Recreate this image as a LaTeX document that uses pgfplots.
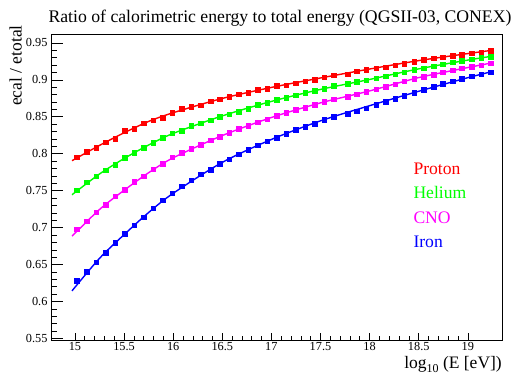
\documentclass[border=0pt]{standalone}
\usepackage{fontspec}
\setmainfont{Liberation Serif}
\usepackage{pgfplots}
\pgfplotsset{compat=1.18}
\usepackage{pgfplotstable}
\definecolor{rred}{RGB}{255,0,0}
\definecolor{rgreen}{RGB}{0,255,0}
\definecolor{rmag}{RGB}{255,0,255}
\definecolor{rblue}{RGB}{0,0,255}

\pgfplotstableread{
x y
15.017 0.7956
15.119 0.8027
15.214 0.8085
15.313 0.8160
15.407 0.8206
15.506 0.8313
15.601 0.8340
15.700 0.8417
15.794 0.8457
15.893 0.8490
15.988 0.8555
16.087 0.8614
16.184 0.8636
16.280 0.8660
16.378 0.8712
16.474 0.8740
16.568 0.8770
16.667 0.8806
16.762 0.8824
16.860 0.8870
16.955 0.8883
17.054 0.8918
17.149 0.8931
17.245 0.8958
17.342 0.8985
17.441 0.9004
17.536 0.9039
17.634 0.9066
17.777 0.9079
17.869 0.9120
17.966 0.9138
18.065 0.9160
18.162 0.9170
18.259 0.9200
18.353 0.9220
18.452 0.9250
18.551 0.9273
18.649 0.9294
18.744 0.9308
18.842 0.9327
18.938 0.9344
19.036 0.9362
19.134 0.9375
19.229 0.9398
}\protondata

\pgfplotstableread{
x y
15.017 0.7507
15.119 0.7614
15.214 0.7695
15.313 0.7776
15.407 0.7856
15.506 0.7946
15.601 0.8018
15.700 0.8085
15.794 0.8152
15.893 0.8220
15.988 0.8280
16.087 0.8313
16.184 0.8381
16.280 0.8417
16.378 0.8457
16.474 0.8502
16.568 0.8534
16.667 0.8574
16.762 0.8609
16.860 0.8663
16.955 0.8690
17.054 0.8730
17.149 0.8757
17.245 0.8793
17.342 0.8824
17.441 0.8851
17.536 0.8883
17.634 0.8918
17.777 0.8945
17.869 0.8972
17.966 0.8995
18.065 0.9021
18.162 0.9052
18.259 0.9077
18.353 0.9106
18.452 0.9138
18.551 0.9160
18.649 0.9187
18.744 0.9214
18.842 0.9240
18.938 0.9259
19.036 0.9281
19.134 0.9300
19.229 0.9317
}\heliumdata

\pgfplotstableread{
x y
15.017 0.6979
15.119 0.7086
15.214 0.7211
15.313 0.7310
15.407 0.7426
15.506 0.7512
15.601 0.7620
15.700 0.7700
15.794 0.7790
15.893 0.7870
15.988 0.7956
16.087 0.8018
16.184 0.8071
16.280 0.8125
16.378 0.8184
16.474 0.8233
16.568 0.8287
16.667 0.8340
16.762 0.8381
16.860 0.8430
16.955 0.8466
17.054 0.8515
17.149 0.8555
17.245 0.8595
17.342 0.8628
17.441 0.8663
17.536 0.8703
17.634 0.8739
17.777 0.8770
17.869 0.8806
17.966 0.8837
18.065 0.8874
18.162 0.8910
18.259 0.8941
18.353 0.8981
18.452 0.9017
18.551 0.9044
18.649 0.9071
18.744 0.9102
18.842 0.9133
18.938 0.9156
19.036 0.9179
19.134 0.9200
19.229 0.9227
}\cnodata

\pgfplotstableread{
x y
15.017 0.6284
15.119 0.6405
15.214 0.6536
15.313 0.6660
15.407 0.6795
15.506 0.6916
15.601 0.7037
15.700 0.7145
15.794 0.7265
15.893 0.7373
15.988 0.7465
16.087 0.7560
16.184 0.7641
16.280 0.7722
16.378 0.7789
16.474 0.7866
16.568 0.7929
16.667 0.7996
16.762 0.8058
16.860 0.8117
16.955 0.8171
17.054 0.8220
17.149 0.8272
17.245 0.8327
17.342 0.8367
17.441 0.8407
17.536 0.8461
17.634 0.8501
17.777 0.8542
17.869 0.8575
17.966 0.8615
18.065 0.8663
18.162 0.8703
18.259 0.8746
18.353 0.8784
18.452 0.8824
18.551 0.8864
18.649 0.8905
18.744 0.8945
18.842 0.8981
18.938 0.9017
19.036 0.9048
19.134 0.9075
19.229 0.9106
}\irondata

\begin{document}
\begin{tikzpicture}
\path[use as bounding box] (0pt,0pt) rectangle (514pt,377pt);
\begin{axis}[
  at={(51pt,37pt)}, anchor=south west,
  scale only axis, width=451pt, height=306pt,
  xmin=14.756, xmax=19.348, ymin=0.548, ymax=0.962,
  xtick={15,15.5,16,16.5,17,17.5,18,18.5,19},
  xticklabels={15,15.5,16,16.5,17,17.5,18,18.5,19},
  ytick={0.55,0.6,0.65,0.7,0.75,0.8,0.85,0.9,0.95},
  yticklabels={0.55,0.6,0.65,0.7,0.75,0.8,0.85,0.9,0.95},
  minor x tick num=4, minor y tick num=4,
  tick align=inside,
  xtick pos=bottom, ytick pos=left,
  axis line style={black, line width=0.8pt},
  tick style={black, line width=0.6pt},
  xtick style={/pgfplots/major tick length=7pt, /pgfplots/minor tick length=3.5pt},
  ytick style={/pgfplots/major tick length=12pt, /pgfplots/minor tick length=6pt},
  ticklabel style={font=\fontsize{12.3}{14}\selectfont},
  xticklabel style={yshift=1pt},
  /pgf/number format/assume math mode=true,
  clip=false,
]
% fitted curves
\addplot[rred, line width=1.4pt, smooth] coordinates {
(14.97,0.7906) (15.25,0.8113) (15.5,0.8283) (15.75,0.8437) (16.0,0.8555) (16.5,0.8748) (17.0,0.8897) (17.5,0.9025) (18.0,0.9146) (18.5,0.9260) (19.0,0.9355) (19.25,0.9400)};
\addplot[rgreen, line width=1.4pt, smooth] coordinates {
(14.97,0.7445) (15.25,0.7726) (15.5,0.7935) (15.75,0.8118) (16.0,0.8275) (16.5,0.8512) (17.0,0.8708) (17.5,0.8870) (18.0,0.9005) (18.5,0.9148) (19.0,0.9267) (19.25,0.9320)};
\addplot[rmag, line width=1.4pt, smooth] coordinates {
(14.97,0.6884) (15.25,0.7246) (15.5,0.7505) (15.75,0.7743) (16.0,0.7945) (16.5,0.8246) (17.0,0.8490) (17.5,0.8688) (18.0,0.8850) (18.5,0.9030) (19.0,0.9166) (19.25,0.9230)};
\addplot[rblue, line width=1.4pt, smooth] coordinates {
(14.97,0.6145) (15.25,0.6585) (15.5,0.6905) (15.75,0.7205) (16.0,0.7465) (16.5,0.7883) (17.0,0.8193) (17.5,0.8445) (18.0,0.8650) (18.5,0.8845) (19.0,0.9029) (19.25,0.9112)};
% data points
\addplot[only marks, mark=square*, mark size=2.3pt, mark options={draw=rred, fill=rred, line width=0.2pt}] table {\protondata};
\addplot[only marks, mark=square*, mark size=2.3pt, mark options={draw=rgreen, fill=rgreen, line width=0.2pt}] table {\heliumdata};
\addplot[only marks, mark=square*, mark size=2.3pt, mark options={draw=rmag, fill=rmag, line width=0.2pt}] table {\cnodata};
\addplot[only marks, mark=square*, mark size=2.3pt, mark options={draw=rblue, fill=rblue, line width=0.2pt}] table {\irondata};
\end{axis}
% title
\node[anchor=base, inner sep=0pt, font=\fontsize{17.7}{20}\selectfont] at (280pt,354.3pt)
  {Ratio of calorimetric energy to total energy (QGSII-03, CONEX)};
% axis labels
\node[anchor=base east, rotate=90, inner sep=0pt, font=\fontsize{17.5}{20}\selectfont] at (21.7pt,352pt) {ecal / etotal};
\node[anchor=base east, inner sep=0pt, font=\fontsize{17.5}{20}\selectfont] at (502pt,8pt) {log\raisebox{-0.45ex}{\fontsize{12}{12}\selectfont 10} (E [eV])};
% legend text
\node[anchor=base west, inner sep=0pt, text=rred, font=\fontsize{17.6}{20}\selectfont] at (413.3pt,202.5pt) {Proton};
\node[anchor=base west, inner sep=0pt, text=rgreen, font=\fontsize{17.6}{20}\selectfont] at (413.3pt,178pt) {Helium};
\node[anchor=base west, inner sep=0pt, text=rmag, font=\fontsize{17.6}{20}\selectfont] at (413.3pt,153.5pt) {CNO};
\node[anchor=base west, inner sep=0pt, text=rblue, font=\fontsize{17.6}{20}\selectfont] at (413.3pt,129pt) {Iron};
\end{tikzpicture}
\end{document}
